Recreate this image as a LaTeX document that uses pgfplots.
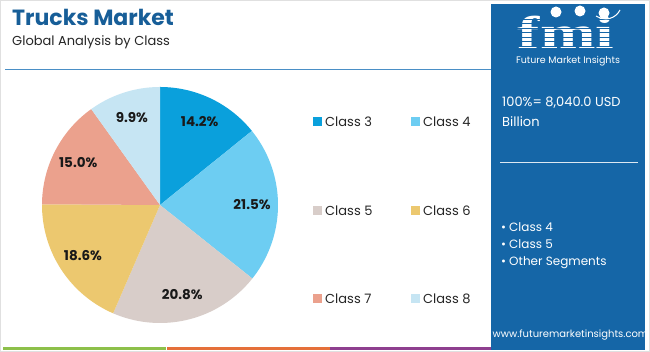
\documentclass[border=0pt]{standalone}
\usepackage{pgfplots}
\pgfplotsset{compat=1.18}
\usepackage{fontspec}
\setmainfont{Poppins}
\newfontfamily\logofont{Liberation Serif}
\definecolor{cA}{HTML}{0AA0DC}
\definecolor{cB}{HTML}{6DCDF2}
\definecolor{cC}{HTML}{D8CDC9}
\definecolor{cD}{HTML}{ECC86F}
\definecolor{cE}{HTML}{EBA18D}
\definecolor{cF}{HTML}{C6E5F3}
\definecolor{titleblue}{HTML}{175E98}
\definecolor{lineblue}{HTML}{4A8FC6}
\definecolor{panel}{HTML}{1566A7}
\definecolor{sgreen}{HTML}{8DC04A}
\definecolor{sorange}{HTML}{E5703A}
\definecolor{spurple}{HTML}{8E3F8F}
\def\cum{90}
\newcommand{\pieslice}[3]{%
  \pgfmathsetmacro\sa{\cum}%
  \pgfmathsetmacro\sb{\cum-3.6*#1}%
  \pgfmathsetmacro\sm{(\sa+\sb)/2}%
  \edef\tmp{\noexpand\addplot[fill=#2, draw=none, domain=\sb:\sa, samples=90, variable=\noexpand\t] ({cos(\noexpand\t)},{sin(\noexpand\t)}) -- (axis cs:0,0) -- cycle;
  \noexpand\node[pct] at (axis cs:{0.78*cos(\sm)},{0.78*sin(\sm)}) {#3\noexpand\%};}%
  \tmp
  \global\let\cum\sb}
\begin{document}
\begin{tikzpicture}[x=1pt,y=1pt,
  pct/.style={font=\fontsize{13.5}{15}\selectfont\bfseries, text=black!90, inner sep=0}]
\path[use as bounding box] (0,0) rectangle (650,352);
\fill[white] (0,0) rectangle (650,352);
\draw[black!12, line width=0.8pt] (0.4,0.4) rectangle (649.6,351.6);
% titles
\node[anchor=base west, font=\fontsize{22}{24}\selectfont\bfseries, text=titleblue, inner sep=0] at (12,326) {Trucks Market};
\node[anchor=base west, font=\fontsize{13}{15}\selectfont, text=black!85, inner sep=0] at (12,306) {Global Analysis by Class};
\draw[lineblue, line width=1pt] (5,282) -- (491,282);
% bottom stripes
\fill[sgreen] (3,2) rectangle (166,5);
\fill[sorange] (167,2) rectangle (330,5);
\fill[spurple] (330,2) rectangle (492,5);
% panel
\fill[panel] (491,2) rectangle (645,348);
\node[anchor=base, font=\logofont\fontsize{46}{46}\selectfont\bfseries, text=white, inner sep=0, xscale=1.45] at (566,303) {fmi};
\foreach \yy in {305,309.5,...,336} {\fill[panel] (510,\yy) rectangle (626,\yy+1.3);}
\fill[white] (556,340) circle (5.5);
\fill[white] (580,341) circle (5.5);
\fill[white] (604,339) circle (5.5);
\draw[white, line width=1pt] (596,336) .. controls (606,330) and (616,334) .. (620,342);
\node[anchor=base, font=\fontsize{9.5}{11}\selectfont, text=white, inner sep=0] at (568,288) {Future Market Insights};
\node[anchor=base west, font=\fontsize{13}{15}\selectfont, text=white, inner sep=0] at (502,245) {100\%= 8,040.0 USD};
\node[anchor=base west, font=\fontsize{13}{15}\selectfont, text=white, inner sep=0] at (502,225) {Billion};
\draw[white!85!panel, line width=0.8pt] (500,190) -- (638,190);
\foreach \yy/\tt in {120/Class 4,103/Class 5,86/Other Segments} {
  \node[anchor=base west, font=\fontsize{12}{14}\selectfont, text=white, inner sep=0] at (501,\yy) {\textbullet};
  \node[anchor=base west, font=\fontsize{12}{14}\selectfont, text=white, inner sep=0] at (509,\yy) {\tt};
}
\node[anchor=base, font=\fontsize{10}{12}\selectfont, text=white, inner sep=0] at (570.5,14) {www.futuremarketinsights.com};
% legend
\foreach \xx/\yy/\cc/\tt in {313/230/cA/Class 3, 411/230/cB/Class 4, 313/141.5/cC/Class 5, 411/141.5/cD/Class 6, 313/53.5/cE/Class 7, 411/53.5/cF/Class 8} {
  \fill[\cc] (\xx,\yy-4.5) rectangle (\xx+9,\yy+4.5);
  \node[anchor=west, font=\fontsize{13}{15}\selectfont, text=black!85, inner sep=0] at (\xx+12,\yy) {\tt};
}
% pie
\begin{axis}[at={(160pt,147pt)}, anchor=center, width=236pt, height=236pt, scale only axis,
  hide axis, xmin=-1, xmax=1, ymin=-1, ymax=1, clip=false]
\pieslice{14.2}{cA}{14.2}
\pieslice{21.5}{cB}{21.5}
\pieslice{20.8}{cC}{20.8}
\pieslice{18.6}{cD}{18.6}
\pieslice{15.0}{cE}{15.0}
\pieslice{9.9}{cF}{9.9}
\end{axis}
\end{tikzpicture}
\end{document}
